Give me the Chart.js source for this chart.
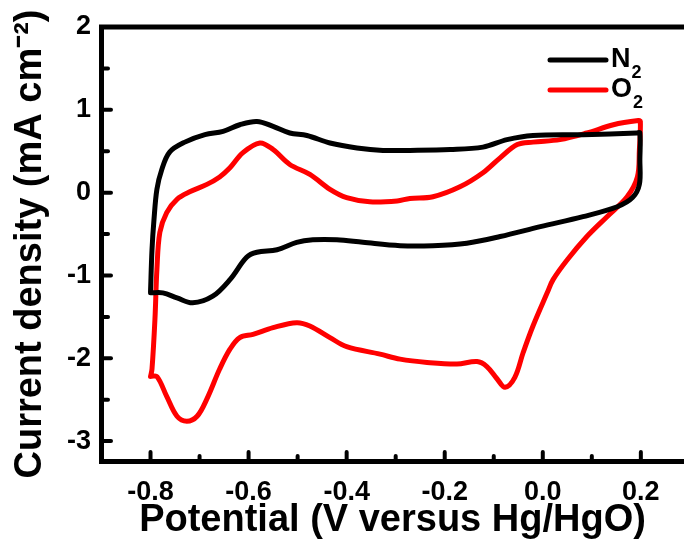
<!DOCTYPE html>
<html>
<head>
<meta charset="utf-8">
<script src="https://cdn.jsdelivr.net/npm/chart.js@4.4.1/dist/chart.umd.min.js"></script>
<style>
  html, body { margin: 0; padding: 0; background: #fff; }
  #wrap { width: 684px; height: 543px; }
</style>
</head>
<body>
<div id="wrap"><canvas id="cv"></canvas></div>
<script>
// N2 loop (V, mA cm-2)
var n2Potential = [-0.800, -0.797, -0.793, -0.787, -0.777, -0.761, -0.730, -0.689, -0.652, -0.618, -0.583, -0.550, -0.516, -0.481, -0.434, -0.379, -0.326, -0.271, -0.189, -0.122, -0.073, -0.020, 0.082, 0.192, 0.198,
                   0.198, 0.197, 0.183, 0.152, 0.082, -0.005, -0.087, -0.155, -0.224, -0.291, -0.367, -0.420, -0.469, -0.502, -0.542, -0.583, -0.604, -0.638, -0.673, -0.714, -0.746, -0.775, -0.800];
var n2Current = [-1.20, -0.69, -0.33, 0.04, 0.28, 0.49, 0.61, 0.70, 0.74, 0.82, 0.86, 0.80, 0.72, 0.69, 0.60, 0.54, 0.51, 0.51, 0.52, 0.55, 0.64, 0.69, 0.70, 0.72, 0.72,
                 0.40, 0.10, -0.06, -0.17, -0.29, -0.41, -0.53, -0.61, -0.64, -0.64, -0.60, -0.57, -0.57, -0.60, -0.69, -0.72, -0.78, -1.05, -1.25, -1.33, -1.27, -1.21, -1.21];

// O2 loop
var o2Potential = [-0.800, -0.797, -0.791, -0.787, -0.781, -0.767, -0.746, -0.720, -0.685, -0.659, -0.638, -0.612, -0.577, -0.550, -0.516, -0.475, -0.434, -0.400, -0.353, -0.297, -0.271, -0.224, -0.169, -0.122, -0.087, -0.052, -0.020, 0.035, 0.090, 0.144, 0.195,
                   0.199, 0.197, 0.193, 0.172, 0.131, 0.090, 0.050, 0.021, 0.009, -0.020, -0.040, -0.057, -0.077, -0.093, -0.114, -0.134, -0.175, -0.236, -0.291, -0.332, -0.400, -0.434, -0.475, -0.502, -0.550, -0.591, -0.618, -0.638, -0.659, -0.685, -0.705, -0.726, -0.746, -0.767, -0.787, -0.800];
var o2Current = [-2.22, -2.13, -1.53, -0.93, -0.48, -0.24, -0.08, 0.01, 0.10, 0.19, 0.30, 0.48, 0.60, 0.52, 0.34, 0.22, 0.04, -0.06, -0.11, -0.10, -0.07, -0.05, 0.07, 0.24, 0.42, 0.58, 0.61, 0.64, 0.72, 0.82, 0.87,
                 0.86, 0.52, 0.19, -0.05, -0.29, -0.53, -0.81, -1.05, -1.21, -1.61, -1.93, -2.23, -2.35, -2.25, -2.10, -2.04, -2.07, -2.05, -2.01, -1.95, -1.86, -1.75, -1.61, -1.57, -1.63, -1.71, -1.75, -1.89, -2.13, -2.49, -2.70, -2.76, -2.70, -2.46, -2.22, -2.22];

var seriesNames = ["N2", "O2"];
var seriesColors = ["#000000", "#ff0000"];

var xMajorTicks = [-0.8, -0.6, -0.4, -0.2, 0.0, 0.2];
var xTickLabels = ["-0.8", "-0.6", "-0.4", "-0.2", "0.0", "0.2"];
var xMinorTicks = [-0.7, -0.5, -0.3, -0.1, 0.1];
var yMajorTicks = [-3, -2, -1, 0, 1, 2];
var yTickLabels = ["-3", "-2", "-1", "0", "1", "2"];
var yMinorTicks = [-2.5, -1.5, -0.5, 0.5, 1.5];

function toPoints(xs, ys){
  var pts = [];
  for (var i = 0; i < xs.length; i++) {
    pts.push({x: xs[i], y: ys[i]});
  }
  return pts;
}

var FONT = "'Liberation Sans', Arial, sans-serif";

// inward tick marks, top frame line and the little legend with subscripts
var frameStuff = {
  id: 'frameStuff',
  afterDraw: function(chart){
    var ctx = chart.ctx, ca = chart.chartArea;
    var xs = chart.scales.x, ys = chart.scales.y;
    ctx.save();
    ctx.strokeStyle = '#000';
    ctx.lineCap = 'round';
    ctx.lineWidth = 4;
    function tx(v, len){
      var p = xs.getPixelForValue(v);
      ctx.beginPath(); ctx.moveTo(p, ca.bottom); ctx.lineTo(p, ca.bottom - len); ctx.stroke();
    }
    function ty(v, len){
      var p = ys.getPixelForValue(v);
      ctx.beginPath(); ctx.moveTo(ca.left, p); ctx.lineTo(ca.left + len, p); ctx.stroke();
    }
    xMajorTicks.forEach(function(v){ tx(v, 9); });
    xMinorTicks.forEach(function(v){ tx(v, 5); });
    yMajorTicks.forEach(function(v){ ty(v, 10); });
    yMinorTicks.forEach(function(v){ ty(v, 7); });

    // top border
    ctx.lineCap = 'butt';
    ctx.lineWidth = 5;
    ctx.beginPath(); ctx.moveTo(ca.left - 2, ca.top); ctx.lineTo(ca.right, ca.top); ctx.stroke();

    // legend
    var lx = 550, ly = [60, 90];
    chart.data.datasets.forEach(function(ds, i){
      ctx.strokeStyle = ds.borderColor;
      ctx.lineWidth = 5;
      ctx.lineCap = 'round';
      ctx.beginPath(); ctx.moveTo(lx, ly[i]); ctx.lineTo(lx + 56, ly[i]); ctx.stroke();
      ctx.fillStyle = '#000';
      ctx.textBaseline = 'middle';
      ctx.textAlign = 'left';
      ctx.font = 'bold 27px ' + FONT;
      var main = ds.label.charAt(0);
      ctx.fillText(main, lx + 61, ly[i]);
      var w = ctx.measureText(main).width;
      ctx.font = 'bold 18px ' + FONT;
      ctx.fillText(ds.label.slice(1), lx + 62 + w, ly[i] + 13);
    });
    ctx.restore();
  }
};

new Chart(document.getElementById('cv'), {
  type: 'scatter',
  data: {
    datasets: [
      {
        label: seriesNames[0],
        data: toPoints(n2Potential, n2Current),
        showLine: true,
        borderColor: seriesColors[0],
        backgroundColor: seriesColors[0],
        borderWidth: 5,
        pointRadius: 0,
        tension: 0.35,
        borderJoinStyle: 'round',
        borderCapStyle: 'round'
      },
      {
        label: seriesNames[1],
        data: toPoints(o2Potential, o2Current),
        showLine: true,
        borderColor: seriesColors[1],
        backgroundColor: seriesColors[1],
        borderWidth: 5,
        pointRadius: 0,
        tension: 0.35,
        borderJoinStyle: 'round',
        borderCapStyle: 'round'
      }
    ]
  },
  options: {
    responsive: true,
    maintainAspectRatio: false,
    animation: false,
    layout: { padding: { top: 27, right: 0, left: 0, bottom: 0 } },
    plugins: {
      legend: { display: false },
      tooltip: { enabled: false }
    },
    scales: {
      x: {
        type: 'linear',
        min: -0.901,
        max: 0.288,
        afterBuildTicks: function(scale){
          scale.ticks = xMajorTicks.map(function(v){ return {value: v}; });
        },
        afterFit: function(scale){ scale.height = 82; },
        grid: { display: true, drawOnChartArea: false, drawTicks: false },
        border: { display: true, width: 5, color: '#000' },
        ticks: {
          color: '#000',
          padding: 15,
          maxRotation: 0,
          font: { family: FONT, size: 27, weight: 'bold' },
          callback: function(value){
            var i = xMajorTicks.indexOf(Math.round(value * 10) / 10);
            return i >= 0 ? xTickLabels[i] : '';
          }
        },
        title: {
          display: true,
          text: 'Potential (V versus Hg/HgO)',
          color: '#000',
          font: { family: FONT, size: 38, weight: 'bold' },
          padding: { top: 0, bottom: 0 }
        }
      },
      y: {
        type: 'linear',
        min: -3.24,
        max: 2.0,
        afterBuildTicks: function(scale){
          scale.ticks = yMajorTicks.map(function(v){ return {value: v}; });
        },
        afterFit: function(scale){ scale.width = 101; },
        grid: { display: true, drawOnChartArea: false, drawTicks: false },
        border: { display: true, width: 5, color: '#000' },
        ticks: {
          color: '#000',
          padding: 10,
          font: { family: FONT, size: 27, weight: 'bold' },
          callback: function(value){
            var i = yMajorTicks.indexOf(Math.round(value));
            return i >= 0 ? yTickLabels[i] : '';
          }
        },
        title: {
          display: true,
          text: 'Current density (mA cm\u207B\u00B2)',
          color: '#000',
          font: { family: FONT, size: 38, weight: 'bold' },
          padding: { top: 8, bottom: 0 }
        }
      }
    }
  },
  plugins: [frameStuff]
});
</script>
</body>
</html>
